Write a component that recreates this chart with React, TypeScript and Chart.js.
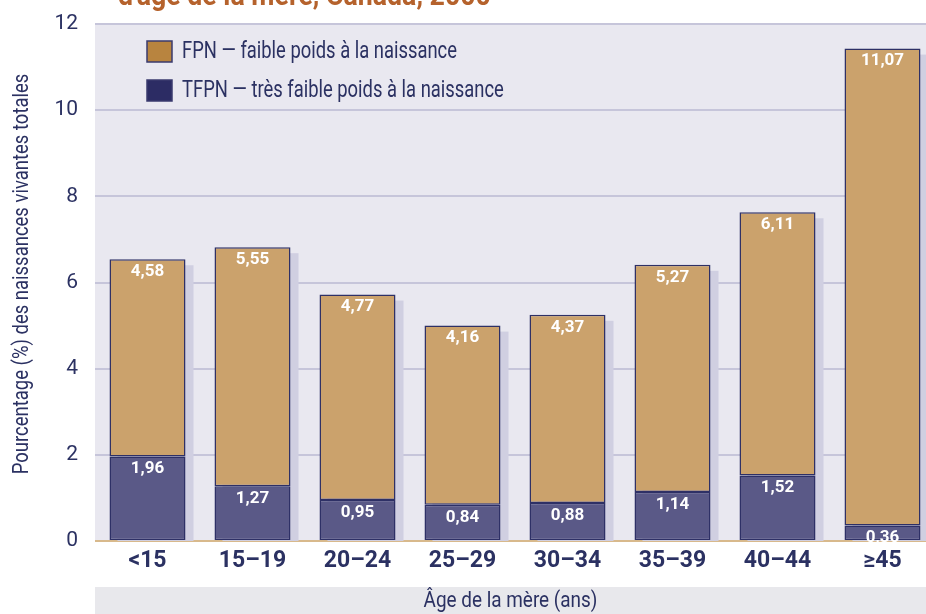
import React, { useEffect, useRef } from "react";
import { Chart, registerables } from "chart.js";

Chart.register(...registerables);

const categories = ["<15", "15–19", "20–24", "25–29", "30–34", "35–39", "40–44", "≥45"];
const tfpnValues = [1.96, 1.27, 0.95, 0.84, 0.88, 1.14, 1.52, 0.36];
const fpnValues = [4.58, 5.55, 4.77, 4.16, 4.37, 5.27, 6.11, 11.07];
const yTicks = [0, 2, 4, 6, 8, 10, 12];

const titleText = "d'âge de la mère, Canada, 2000";
const yTitle = "Pourcentage (%) des naissances vivantes totales";
const xTitle = "Âge de la mère (ans)";
const fpnLabel = "FPN — faible poids à la naissance";
const tfpnLabel = "TFPN — très faible poids à la naissance";

const FONT = "Roboto, 'Liberation Sans', sans-serif";
const NAVY = "#2b3162";
const VISIBLE_W = 926;

function condensed(ctx: any, text: string, x: number, y: number, k: number) {
  ctx.save();
  ctx.translate(x, y);
  ctx.scale(k, 1);
  ctx.fillText(text, 0, 0);
  ctx.restore();
}

const decorPlugin = {
  id: "decor",
  beforeDraw(chart: any) {
    const { ctx, chartArea } = chart;
    ctx.save();
    ctx.fillStyle = "#e9e8f0";
    ctx.fillRect(chartArea.left, chartArea.top, chartArea.right - chartArea.left, chartArea.bottom - chartArea.top);
    // title (cropped at top)
    ctx.fillStyle = "#b5622c";
    ctx.font = `bold 30px ${FONT}`;
    ctx.textAlign = "left";
    ctx.textBaseline = "alphabetic";
    condensed(ctx, titleText, 118, 5, 0.89);
    // x band + title
    ctx.fillStyle = "#e8e8ec";
    ctx.fillRect(chartArea.left, 587, VISIBLE_W - chartArea.left, chart.height - 587);
    ctx.fillStyle = NAVY;
    ctx.font = `22px ${FONT}`;
    ctx.textAlign = "center";
    ctx.textBaseline = "middle";
    condensed(ctx, xTitle, (chartArea.left + VISIBLE_W) / 2, 601, 0.86);
    // y title
    ctx.translate(22, 274);
    ctx.rotate(-Math.PI / 2);
    ctx.font = `22px ${FONT}`;
    condensed(ctx, yTitle, 0, 0, 0.84);
    ctx.restore();
  },
  beforeDatasetsDraw(chart: any) {
    const { ctx } = chart;
    const topMeta = chart.getDatasetMeta(1);
    const base = chart.scales.y.getPixelForValue(0);
    ctx.save();
    ctx.fillStyle = "#d0cfe1";
    topMeta.data.forEach((el: any) => {
      const w = el.width;
      ctx.fillRect(el.x - w / 2 + 8, el.y + 6, w, base - el.y - 6);
    });
    ctx.restore();
  },
  afterDatasetsDraw(chart: any) {
    const { ctx } = chart;
    ctx.save();
    ctx.fillStyle = "#ffffff";
    ctx.font = `bold 17px ${FONT}`;
    ctx.textAlign = "center";
    ctx.textBaseline = "top";
    chart.data.datasets.forEach((ds: any, di: number) => {
      const meta = chart.getDatasetMeta(di);
      meta.data.forEach((el: any, i: number) => {
        const v = ds.data[i] as number;
        ctx.fillText(v.toFixed(2).replace(".", ","), el.x, el.y + 4);
      });
    });
    ctx.restore();
  },
  afterDraw(chart: any) {
    const { ctx } = chart;
    ctx.save();
    const items = [
      { label: fpnLabel, color: "#b8843f", y: 41 },
      { label: tfpnLabel, color: "#2c2c64", y: 80 },
    ];
    items.forEach((it) => {
      ctx.fillStyle = it.color;
      ctx.fillRect(147, it.y, 25, 21);
      ctx.strokeStyle = "#3a3a6e";
      ctx.lineWidth = 1.5;
      ctx.strokeRect(147, it.y, 25, 21);
      ctx.fillStyle = NAVY;
      ctx.font = `23px ${FONT}`;
      ctx.textAlign = "left";
      ctx.textBaseline = "middle";
      condensed(ctx, it.label, 182, it.y + 11, 0.8);
    });
    ctx.restore();
  },
};

export default function App() {
  const ref = useRef<HTMLCanvasElement>(null);
  useEffect(() => {
    if (!ref.current) return;
    const chart = new Chart(ref.current, {
      type: "bar",
      data: {
        labels: categories,
        datasets: [
          {
            label: "TFPN",
            data: tfpnValues,
            backgroundColor: "#5a5987",
            borderColor: "#2e3066",
            borderWidth: 1.5,
            borderSkipped: false,
          },
          {
            label: "FPN",
            data: fpnValues,
            backgroundColor: "#cba26c",
            borderColor: "#2e3066",
            borderWidth: 1.5,
            borderSkipped: false,
          },
        ],
      },
      plugins: [decorPlugin],
      options: {
        animation: false,
        responsive: false,
        devicePixelRatio: 1,
        layout: { padding: { top: 24, left: 0, right: 0, bottom: 0 } },
        plugins: { legend: { display: false }, tooltip: { enabled: false } },
        datasets: { bar: { categoryPercentage: 1, barPercentage: 0.724 } },
        scales: {
          x: {
            stacked: true,
            grid: { display: false, drawTicks: false },
            border: { display: false },
            ticks: { color: NAVY, font: { family: FONT, size: 23, weight: "bold" }, padding: 6 },
            afterFit: (s: any) => { s.height = 73; s.paddingLeft = 0; s.paddingRight = 0; },
          },
          y: {
            stacked: true,
            min: 0,
            max: 12,
            afterBuildTicks: (s: any) => { s.ticks = yTicks.map((v) => ({ value: v })); },
            grid: {
              drawTicks: false,
              lineWidth: 2,
              color: (c: any) => (c.tick && c.tick.value === 0 ? "#d8b98c" : "#c6c5da"),
            },
            border: { display: false },
            ticks: { color: NAVY, font: { family: FONT, size: 21 }, padding: 17 },
            afterFit: (s: any) => { s.width = 95; s.paddingTop = 0; s.paddingBottom = 0; },
          },
        },
      },
    } as any);
    return () => chart.destroy();
  }, []);
  return (
    <div style={{ position: "absolute", left: 0, top: 0, width: VISIBLE_W, height: 614, overflow: "hidden", background: "#fff" }}>
      <canvas ref={ref} width={935} height={614} style={{ display: "block" }} />
    </div>
  );
}
